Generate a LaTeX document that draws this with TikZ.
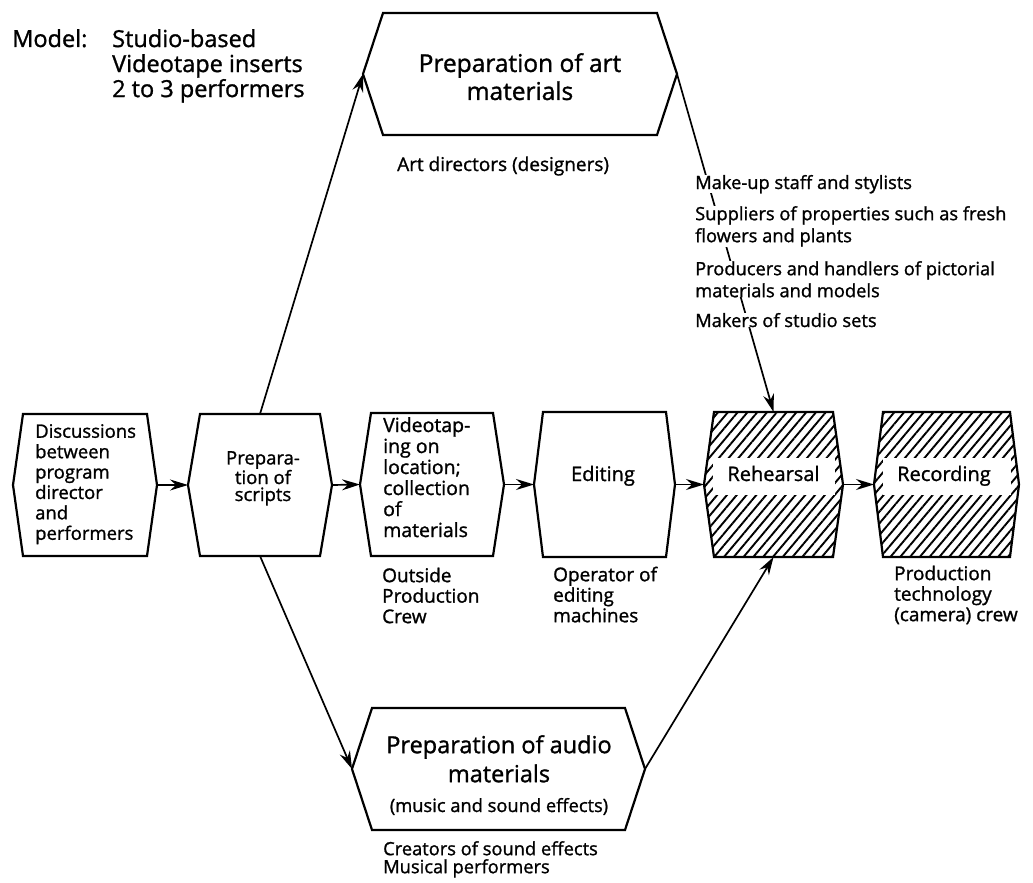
\documentclass[tikz,border=0pt]{standalone}
\usepackage{fontspec}
\setmainfont{Open Sans}[UprightFeatures={FakeBold=1.2}]
\usetikzlibrary{arrows.meta, patterns.meta}

\newcommand\fsModel{\fontsize{23.5}{25}\selectfont}
\newcommand\fsTitle{\fontsize{24.5}{28}\selectfont}
\newcommand\fsMid{\fontsize{19}{20.5}\selectfont}
\newcommand\fsSmall{\fontsize{18.3}{22}\selectfont}

\tikzset{
  hexline/.style={draw, line width=2.2pt, line join=miter},
  hatched/.style={pattern={Lines[angle=50,distance=7.5pt,line width=1.9pt]}},
  flow/.style={line width=1.7pt, -{Stealth[length=18pt,width=11pt,inset=6pt]}},
  lbl/.style={inner sep=0pt, align=left},
  band/.style={fill=white, inner sep=0pt, minimum width=122pt, minimum height=37pt},
}

% hexagon: style, name, left tip x, right tip x, top y, bottom y, inset
\newcommand\hexbox[7][]{%
  \path[hexline,#1] ({#3+#7},#5) -- ({#4-#7},#5) -- (#4,{(#5+#6)/2})
    -- ({#4-#7},#6) -- ({#3+#7},#6) -- (#3,{(#5+#6)/2}) -- cycle;
  \coordinate (#2-w) at (#3,{(#5+#6)/2});
  \coordinate (#2-e) at (#4,{(#5+#6)/2});
  \coordinate (#2-n) at ({(#3+#4)/2},#5);
  \coordinate (#2-s) at ({(#3+#4)/2},#6);
  \coordinate (#2-c) at ({(#3+#4)/2},{(#5+#6)/2});
}

\begin{document}
\begin{tikzpicture}[x=1pt,y=-1pt]
\useasboundingbox (0,0) rectangle (1033,883);

% boxes
\hexbox{art}{363}{677}{13}{135}{20}
\hexbox{disc}{13}{157}{414}{556}{10}
\hexbox{script}{188}{332}{414}{556}{12}
\hexbox{video}{360}{504}{413}{556}{11}
\hexbox{edit}{534}{675}{412}{557}{9}
\hexbox[hatched]{rehe}{704}{843}{412}{557}{10}
\hexbox[hatched]{reco}{874}{1019}{412}{557}{9}
\hexbox{audio}{352}{645}{708}{830}{20}

% connectors
\draw[flow] (disc-e) -- (script-w);
\draw[flow] (script-e) -- (video-w);
\draw[flow] (video-e) -- (edit-w);
\draw[flow] (edit-e) -- (rehe-w);
\draw[flow] (rehe-e) -- (reco-w);
\draw[flow] (script-n) -- (art-w);
\draw[flow] (script-s) -- (audio-w);
\draw[flow] (audio-e) -- (rehe-s);
\draw[flow] (art-e) -- (rehe-n);

% heading
\node[lbl, font=\fsModel, anchor=base west] (model) at (12,47) {Model:};
\node[lbl, font=\fsModel, anchor=north west] (kind) at (112,29)
  {Studio-based\\Videotape inserts\\2 to 3 performers};

% box texts
\node[lbl, font=\fsTitle, align=center, anchor=north] (arttxt) at (520,53)
  {Preparation of art\\materials};
\node[lbl, font=\fontsize{18.5}{20.4}\selectfont, anchor=north west] (disctxt) at (35,424)
  {Discussions\\between\\program\\director\\and\\performers};
\node[lbl, font=\fontsize{18.5}{17}\selectfont, align=center, anchor=north] (scripttxt) at (263,451)
  {Prepara-\\tion of\\scripts};
\node[lbl, font=\fontsize{19.5}{21}\selectfont, anchor=north west] (videotxt) at (383,417)
  {Videotap-\\ing on\\location;\\collection\\of\\materials};
\node[lbl, font=\fontsize{20}{24}\selectfont, anchor=base] (edittxt) at (603,481) {Editing};
\node[band] (reheband) at (773.5,476) {};
\node[lbl, font=\fontsize{20}{24}\selectfont, anchor=base] (rehetxt) at (773.5,481) {Rehearsal};
\node[band, minimum width=128pt] (recoband) at (946.5,476) {};
\node[lbl, font=\fontsize{20}{24}\selectfont, anchor=base] (recotxt) at (944,481) {Recording};
\node[lbl, font=\fontsize{23.5}{29}\selectfont, align=center, anchor=north] (audiotxt) at (499,735)
  {Preparation of audio\\materials};
\node[lbl, font=\fsSmall, anchor=base] (audiosub) at (499,812) {(music and sound effects)};

% crews
\node[lbl, font=\fontsize{19}{22}\selectfont, anchor=base west] (artcrew) at (397,171) {Art directors (designers)};
\node[lbl, font=\fsMid, anchor=north west] (videocrew) at (382,567.5)
  {Outside\\Production\\Crew};
\node[lbl, font=\fsMid, anchor=north west] (editcrew) at (553,566.5)
  {Operator of\\editing\\machines};
\node[lbl, font=\fsMid, anchor=north west] (recocrew) at (894,565.5)
  {Production\\technology\\(camera) crew};
\node[lbl, font=\fontsize{18.3}{18}\selectfont, anchor=north west] (audiocrew) at (383,841)
  {Creators of sound effects\\Musical performers};

% suppliers along the leader
\node[lbl, font=\fsSmall, fill=white, anchor=base west] (makeup) at (695,189) {Make-up staff and stylists};
\node[lbl, font=\fsSmall, fill=white, anchor=north west] (props) at (695,206)
  {Suppliers of properties such as fresh\\flowers and plants};
\node[lbl, font=\fsSmall, fill=white, anchor=north west] (pictures) at (695,261)
  {Producers and handlers of pictorial\\materials and models};
\node[lbl, font=\fsSmall, fill=white, anchor=base west] (sets) at (695,327) {Makers of studio sets};
\end{tikzpicture}
\end{document}
